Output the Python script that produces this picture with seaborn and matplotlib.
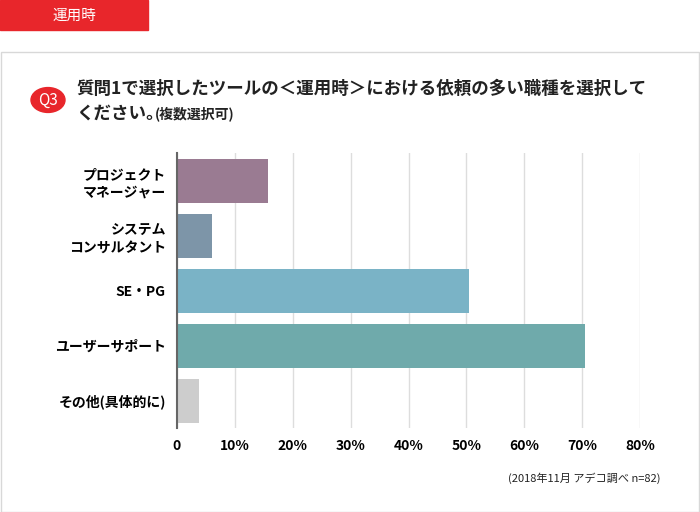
import matplotlib
matplotlib.use("Agg")
import matplotlib.pyplot as plt
from matplotlib.patches import Rectangle, Circle
import pandas as pd
import seaborn as sns

categories = ["プロジェクト\nマネージャー", "システム\nコンサルタント", "SE・PG", "ユーザーサポート", "その他(具体的に)"]
values = [15.7, 6.0, 50.4, 70.5, 3.8]
colors = ["#9a7b92", "#7d95a8", "#7ab3c6", "#6faaab", "#cdcdcd"]
ticks = [0, 10, 20, 30, 40, 50, 60, 70, 80]

plt.rcParams["font.family"] = "Noto Sans CJK JP"
fig = plt.figure(figsize=(7, 5.12), dpi=100)

# decorations
fig.patches.append(Rectangle((0, 1 - 30 / 512), 148 / 700, 30 / 512, transform=fig.transFigure,
                             color="#e8262b", zorder=0))
fig.text(74 / 700, 1 - 16 / 512, "運用時", color="white", fontsize=10.5, ha="center", va="center")
fig.patches.append(Rectangle((1 / 700, 0), 698 / 700, 1 - 52 / 512, transform=fig.transFigure,
                             fill=False, edgecolor="#d8d8d8", lw=1))
fig.patches.append(Circle((48 / 700, 1 - 100 / 512), 17 / 700, transform=fig.transFigure,
                          color="#e8262b"))
fig.text(48 / 700, 1 - 100 / 512, "Q3", color="white", fontsize=11, ha="center", va="center")
fig.text(76 / 700, 1 - 89 / 512, "質問1で選択したツールの＜運用時＞における依頼の多い職種を選択して",
         fontsize=12.6, fontweight="bold", va="center", color="#222222")
fig.text(76 / 700, 1 - 114 / 512, "ください。", fontsize=12.6, fontweight="bold", va="center", color="#222222")
fig.text(155 / 700, 1 - 114 / 512, "(複数選択可)", fontsize=10, fontweight="bold", va="center", color="#222222")
fig.text(660 / 700, 1 - 478 / 512, "(2018年11月 アデコ調べ n=82)", fontsize=8, ha="right", va="center",
         color="#222222")

ax = fig.add_axes([177 / 700, 1 - 428 / 512, 463 / 700, 275 / 512])
df = pd.DataFrame({"cat": categories, "val": values})
sns.barplot(data=df, y="cat", x="val", hue="cat", palette=colors, legend=False,
            width=0.8, ax=ax, saturation=1)
ax.set_xlim(0, 80)
ax.set_xticks(ticks)
ax.set_xticklabels([f"{t}%" if t else "0" for t in ticks], fontweight="bold", fontsize=10)
ax.set_yticklabels(categories, fontweight="bold", fontsize=10, linespacing=1.3)
ax.set_xlabel("")
ax.set_ylabel("")
ax.grid(axis="x", color="#dddddd", lw=1)
ax.set_axisbelow(True)
for s in ["top", "right", "bottom"]:
    ax.spines[s].set_visible(False)
ax.spines["left"].set_color("#666666")
ax.spines["left"].set_linewidth(1.5)
ax.tick_params(length=0, pad=8)
fig.savefig("out.png", dpi=100, facecolor="white")
